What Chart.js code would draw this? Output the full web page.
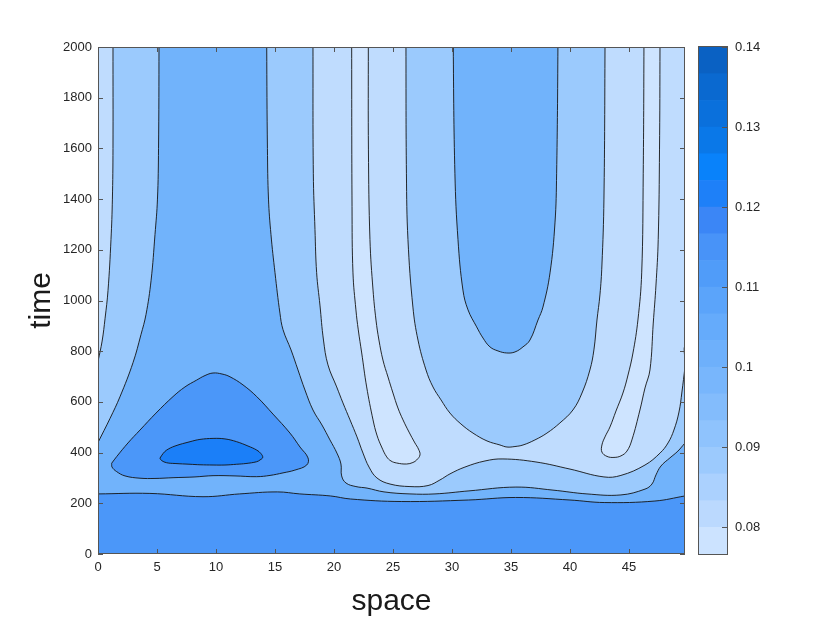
<!DOCTYPE html>
<html>
<head>
<meta charset="utf-8">
<script src="https://cdn.jsdelivr.net/npm/chart.js@4.4.1/dist/chart.umd.min.js"></script>
<style>
  html, body { margin: 0; padding: 0; background: #fff; }
  #wrap { position: relative; width: 830px; height: 623px; }
  #plot { position: absolute; left: 0; top: 0; }
  #cbar { position: absolute; left: 690px; top: 0; }
</style>
</head>
<body>
<div id="wrap">
  <canvas id="plot" width="830" height="623"></canvas>
  <canvas id="cbar" width="140" height="623"></canvas>
</div>
<script>
const FONT = "'Liberation Sans', Arial, Helvetica, sans-serif";
const TEXT_COLOR = '#262626';
const FRAME_COLOR = '#555';
const LINE_COLOR = 'rgba(20,20,20,0.9)';

// axis ranges and ticks
const X_MAX = 49.75;
const T_MAX = 2000;
const xTicks = [0, 5, 10, 15, 20, 25, 30, 35, 40, 45];
const yTicks = [0, 200, 400, 600, 800, 1000, 1200, 1400, 1600, 1800, 2000];

// colorbar
const cbTicks = [0.08, 0.09, 0.10, 0.11, 0.12, 0.13, 0.14];
const cbEdges = [0.07667, 0.08, 0.08333, 0.08667, 0.09, 0.09333, 0.09667, 0.1, 0.10333, 0.10667,
                 0.11, 0.11333, 0.11667, 0.12, 0.12333, 0.12667, 0.13, 0.13333, 0.13667, 0.14];
const cbColors = ['#cce3ff', '#bbd9fe', '#abd1fe', '#9ccafd', '#8fc3fd', '#83bcfc', '#78b6fc',
                  '#6eb0fb', '#65abfb', '#5ba4fa', '#509cf9', '#4893f8', '#3b86f6', '#1e80f8',
                  '#0982fa', '#0a78e8', '#0a70dc', '#0a69d0', '#0a61c3'];

// fill colours of the contour bands, lightest to darkest
const levelColors = ['#cee4ff', '#bfdcfe', '#9bcafd', '#71b3fb', '#4b97f9', '#1b7ff8'];

// contour lines, [space, time]
const lineB0 = [[0,237],[4.4,239],[8.9,226],[12,237],[15.2,245],[17.1,237],[19.7,229],[21.4,217],
  [25.7,207],[31.4,213],[35.4,223],[40,213],[42.9,203],[47.2,209],[49.75,229]];
const lineA = [[1.27,2000],[1.27,1600],[1.22,1400],[1.1,1240],[0.85,1040],[0.6,930],[0.35,840],[0,760]];
const lineB = [[5.17,2000],[5.13,1600],[5.04,1400],[4.83,1260],[4.5,1080],[4.07,945],[3.64,865],
  [2.97,755],[1.86,620],[1.02,535],[0,440]];
const lineC = [[14.3,2000],[14.36,1600],[14.45,1400],[14.66,1260],[15,1110],[15.42,950],[15.68,885],
  [16.36,805],[16.95,726],[17.54,647],[18.22,568],[18.98,509],[19.66,450],[20.25,398],[20.59,355],
  [20.65,308],[21.02,280],[21.86,266],[22.8,260],[24.24,245],[26.44,237],[28.56,237],[31.44,249],
  [35.42,264],[38.56,252],[41.44,237],[44.32,233],[46.36,256],[46.95,276],[47.29,312],[47.71,347],
  [48.47,379],[49.15,406],[49.75,438]];
const lineB2 = [[18.22,2000],[18.25,1500],[18.39,1280],[18.53,1110],[18.81,982],[19.11,844],[19.49,746],
  [20.23,659],[20.76,596],[21.36,529],[21.95,462],[22.46,398],[22.97,343],[23.64,300],[24.75,276],
  [26.44,266],[27.97,270],[28.98,292],[29.83,316],[31.1,343],[32.8,367],[34.32,375],[37.12,363],
  [40,335],[42.88,304],[44.32,310],[46.36,351],[47.63,398],[48.31,438],[48.81,489],[49.24,560],
  [49.49,639],[49.75,738]];
const lineB3 = [[26.1,2000],[26.14,1500],[26.27,1240],[26.69,974],[27.12,844],[27.8,726],[28.39,659],
  [29.07,608],[29.83,556],[30.76,513],[31.78,477],[32.97,446],[34.07,430],[34.66,422],[35.34,424],
  [36.02,430],[37.03,450],[38.05,477],[39.15,517],[40.25,568],[41.02,635],[41.69,726],[42.03,805],
  [42.29,923],[42.54,1022],[42.71,1140],[42.88,1400],[42.97,2000]];
const lineU = [[30.11,2000],[30.25,1500],[30.51,1240],[30.93,1041],[31.36,963],[32.09,896],[32.63,852],
  [33.22,817],[33.9,801],[34.64,793],[35.34,797],[36.02,817],[36.61,844],[37.29,923],[37.71,974],
  [38.31,1109],[38.73,1306],[38.87,1500],[38.98,2000]];
const tongueL = [[21.5,2000],[21.53,1370],[21.61,1109],[21.86,963],[22.06,884],[22.35,793],[22.77,659],
  [23.31,529],[23.64,469],[24.04,422],[24.47,383],[24.83,367],[25.31,359],[26.16,355],[26.69,361],
  [27.01,371],[27.29,391],[27.16,414],[26.86,438],[26.36,481],[25.85,529],[25.42,576],[25,635],
  [24.58,698],[24.15,765],[23.81,844],[23.56,923],[23.31,1041],[23.05,1240],[22.92,1594],[22.91,2000]];
const tongueR = [[46.27,2000],[46.21,1500],[46.08,1109],[45.76,923],[45.34,793],[44.92,706],[44.49,635],
  [43.9,564],[43.39,501],[42.97,462],[42.71,430],[42.71,402],[43.14,385],[43.73,381],[44.32,387],
  [44.83,406],[45.25,450],[45.93,568],[46.36,655],[46.78,726],[47.06,911],[47.29,1061],[47.48,1240],
  [47.59,1594],[47.63,2000]];
const triangle = [[1.16,358],[1.58,384],[2.54,438],[3.56,489],[4.92,556],[6.36,621],[7.37,659],[8.36,686],
  [9.07,704],[9.75,714],[10.51,710],[11.19,699],[12.29,667],[13.45,621],[14.83,552],[16.27,477],
  [17.12,422],[17.8,379],[17.69,351],[16.69,331],[15.68,320],[14.58,310],[13.45,305],[11.61,308],
  [9.75,309],[8.22,304],[6.36,301],[4.83,298],[3.56,299],[2.29,308],[1.58,325],[1.19,343]];
const ellipse = [[5.25,378],[5.51,396],[5.82,410],[6.53,426],[7.8,443],[8.64,452],[9.75,456],[10.76,454],
  [11.75,443],[12.71,426],[13.45,410],[13.81,396],[13.96,381],[13.73,371],[13.45,364],[12.54,357],
  [11.75,354],[10.76,351],[9.75,351],[8.64,352],[7.8,354],[6.53,357],[5.82,360],[5.38,369]];

// --- build closed areas: lines that run off the plot are closed outside it (clipped away)
const OUT_T = T_MAX + 300, OUT_B = -300, OUT_L = -5, OUT_R = X_MAX + 5;
const lastOf = a => a[a.length - 1];
const ext = (a, b) => [2 * b[0] - a[0], 2 * b[1] - a[1]];

function hang(line) {
  return [[line[0][0], OUT_T], ...line, [lastOf(line)[0], OUT_T]];
}
function toLeft(line) {
  const e = ext(line[line.length - 2], lastOf(line));
  return [[line[0][0], OUT_T], ...line, e, [OUT_L, e[1]], [OUT_L, OUT_T]];
}
function toRight(line) {
  const e = ext(line[line.length - 2], lastOf(line));
  return [[line[0][0], OUT_T], ...line, e, [OUT_R, e[1]], [OUT_R, OUT_T]];
}
function aboveLine(line) {
  const eL = ext(line[1], line[0]);
  const eR = ext(line[line.length - 2], lastOf(line));
  return [[OUT_L, OUT_T], [OUT_L, eL[1]], eL, ...line, eR, [OUT_R, eR[1]], [OUT_R, OUT_T]];
}

const regions = [
  { pts: [[OUT_L, OUT_B], [OUT_R, OUT_B], [OUT_R, OUT_T], [OUT_L, OUT_T]], level: 4, plain: true },
  { pts: aboveLine(lineB0), level: 3 },
  { pts: toLeft(lineB), level: 2 },
  { pts: toLeft(lineA), level: 1 },
  { pts: toRight(lineC), level: 2 },
  { pts: toRight(lineB2), level: 1 },
  { pts: hang(lineB3), level: 2 },
  { pts: hang(lineU), level: 3 },
  { pts: hang(tongueL), level: 0 },
  { pts: hang(tongueR), level: 0 },
  { pts: triangle, level: 4 },
  { pts: ellipse, level: 5 }
];

const datasets = regions.map((r, i) => ({
  data: r.pts.concat([r.pts[0]]).map(([x, y]) => ({ x, y })),
  areaColor: levelColors[r.level],
  borderColor: r.plain ? 'rgba(0,0,0,0)' : LINE_COLOR,
  borderWidth: r.plain ? 0 : 1,
  tension: r.plain ? 0 : 0.4,
  capBezierPoints: false,
  pointRadius: 0,
  pointHoverRadius: 0,
  fill: false,
  order: regions.length - i
}));

// fill each closed line along its own path, just before the line is stroked
const areaFill = {
  id: 'areaFill',
  beforeDatasetDraw(chart, args) {
    const ds = chart.data.datasets[args.index];
    const line = args.meta.dataset;
    if (!ds.areaColor || !line) return;
    const a = chart.chartArea;
    const ctx = chart.ctx;
    ctx.save();
    ctx.beginPath();
    ctx.rect(a.left, a.top, a.right - a.left, a.bottom - a.top);
    ctx.clip();
    line.updateControlPoints(a, 'x');
    ctx.beginPath();
    line.path(ctx);
    ctx.closePath();
    ctx.fillStyle = ds.areaColor;
    ctx.fill();
    ctx.restore();
  }
};

// MATLAB style box with inward ticks on all four sides
const axesBox = {
  id: 'axesBox',
  afterDraw(chart) {
    const { ctx, chartArea: a, scales: { x, y } } = chart;
    ctx.save();
    ctx.strokeStyle = FRAME_COLOR;
    ctx.lineWidth = 1;
    ctx.beginPath();
    xTicks.forEach(v => {
      const px = Math.round(x.getPixelForValue(v)) + 0.5;
      ctx.moveTo(px, a.bottom); ctx.lineTo(px, a.bottom - 5);
      ctx.moveTo(px, a.top); ctx.lineTo(px, a.top + 5);
    });
    yTicks.forEach(v => {
      const py = Math.round(y.getPixelForValue(v)) + 0.5;
      ctx.moveTo(a.left, py); ctx.lineTo(a.left + 5, py);
      ctx.moveTo(a.right, py); ctx.lineTo(a.right - 5, py);
    });
    ctx.stroke();
    ctx.strokeRect(Math.round(a.left) + 0.5, Math.round(a.top) + 0.5,
                   Math.round(a.width) - 1, Math.round(a.height) - 1);
    ctx.restore();
  }
};

new Chart(document.getElementById('plot'), {
  type: 'line',
  data: { datasets },
  options: {
    responsive: false,
    animation: false,
    events: [],
    layout: { padding: { left: 0, top: 47, right: 145, bottom: 0 } },
    plugins: { legend: { display: false }, tooltip: { enabled: false } },
    scales: {
      x: {
        type: 'linear', min: 0, max: X_MAX,
        afterBuildTicks: s => { s.ticks = xTicks.map(v => ({ value: v })); },
        afterFit: s => { s.height = 69; },
        grid: { display: false, drawTicks: false },
        border: { display: false },
        ticks: { padding: 6, color: TEXT_COLOR, font: { family: FONT, size: 13 },
                 maxRotation: 0, autoSkip: false, callback: v => String(v) },
        title: { display: true, text: 'space', color: '#1a1a1a',
                 font: { family: FONT, size: 30 }, padding: { top: 0, bottom: 3 } }
      },
      y: {
        type: 'linear', min: 0, max: T_MAX,
        afterBuildTicks: s => { s.ticks = yTicks.map(v => ({ value: v })); },
        afterFit: s => { s.width = 98; },
        grid: { display: false, drawTicks: false },
        border: { display: false },
        ticks: { padding: 6, color: TEXT_COLOR, font: { family: FONT, size: 13 },
                 autoSkip: false, callback: v => String(v) },
        title: { display: true, text: 'time', color: '#1a1a1a',
                 font: { family: FONT, size: 30 }, padding: { top: 24, bottom: 0 } }
      }
    }
  },
  plugins: [areaFill, axesBox]
});

// colorbar
const cbBox = {
  id: 'cbBox',
  afterDraw(chart) {
    const { ctx, chartArea: a, scales: { y } } = chart;
    ctx.save();
    ctx.strokeStyle = FRAME_COLOR;
    ctx.lineWidth = 1;
    ctx.strokeRect(Math.round(a.left) - 0.5, Math.round(a.top) - 0.5,
                   Math.round(a.width) + 1, Math.round(a.height) + 1);
    ctx.beginPath();
    cbTicks.forEach(v => {
      const py = Math.round(y.getPixelForValue(v)) + 0.5;
      ctx.moveTo(a.right, py); ctx.lineTo(a.right - 5, py);
    });
    ctx.stroke();
    ctx.restore();
  }
};

new Chart(document.getElementById('cbar'), {
  type: 'bar',
  data: {
    labels: [''],
    datasets: cbColors.map((c, i) => ({
      data: [[cbEdges[i], cbEdges[i + 1]]],
      backgroundColor: c,
      borderWidth: 0,
      barPercentage: 1,
      categoryPercentage: 1,
      grouped: false
    }))
  },
  options: {
    responsive: false,
    animation: false,
    events: [],
    layout: { padding: { left: 9, top: 47, right: 0, bottom: 69 } },
    plugins: { legend: { display: false }, tooltip: { enabled: false } },
    scales: {
      x: { display: false },
      y: {
        position: 'right', min: cbEdges[0], max: 0.14,
        afterBuildTicks: s => { s.ticks = cbTicks.map(v => ({ value: v })); },
        afterFit: s => { s.width = 103; },
        grid: { display: false, drawTicks: false },
        border: { display: false },
        ticks: { padding: 8, color: TEXT_COLOR, font: { family: FONT, size: 13 },
                 callback: v => String(+Number(v).toFixed(2)) }
      }
    }
  },
  plugins: [cbBox]
});
</script>
</body>
</html>
